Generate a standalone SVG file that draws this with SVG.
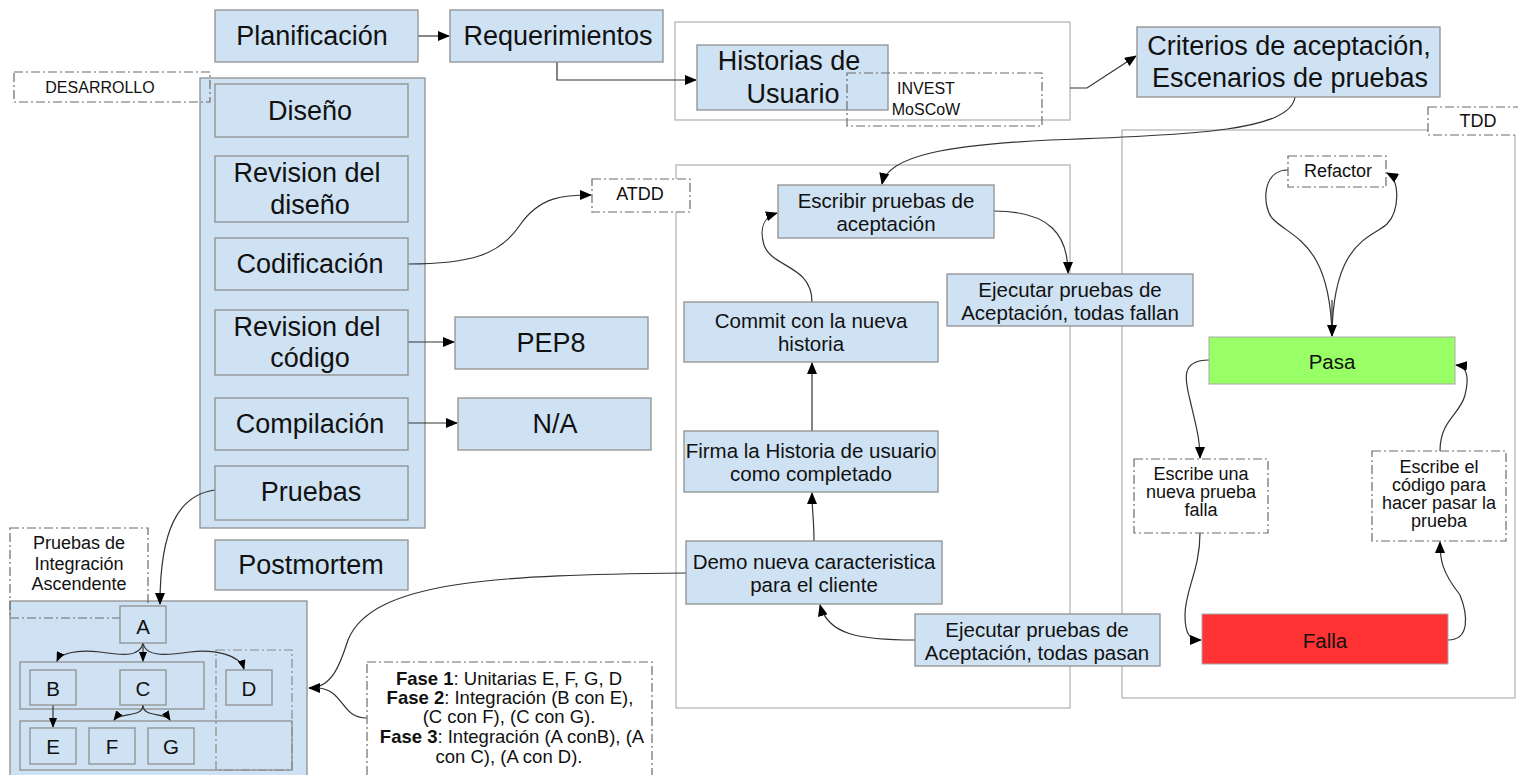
<svg xmlns="http://www.w3.org/2000/svg" width="1518" height="775" viewBox="0 0 1518 775">
<defs>
<marker id="ah" markerWidth="12" markerHeight="10" refX="11" refY="5" orient="auto" markerUnits="userSpaceOnUse">
<path d="M0,0 L12,5 L0,10 Z" fill="#000"/>
</marker>
<marker id="ahs" markerWidth="10" markerHeight="8" refX="9" refY="4" orient="auto" markerUnits="userSpaceOnUse">
<path d="M0,0 L10,4 L0,8 Z" fill="#000"/>
</marker>
<style>
.b{fill:#cfe2f3;stroke:#8f8f8f;stroke-width:1.3}
.g{fill:#fff;stroke:#b5b5b5;stroke-width:1.3}
.d{fill:#fff;stroke:#6b6b6b;stroke-width:1.2;stroke-dasharray:9,3,2,3}
.dt{fill:none;stroke:#6b6b6b;stroke-width:1.2;stroke-dasharray:9,3,2,3}
.dn{fill:none;stroke:#8a8a8a;stroke-width:1.2;stroke-dasharray:9,3,2,3}
.c{fill:none;stroke:#333;stroke-width:1.2;marker-end:url(#ah)}
.cs{fill:none;stroke:#333;stroke-width:1.2;marker-end:url(#ahs)}
.cn{fill:none;stroke:#333;stroke-width:1.2}
text{font-family:"Liberation Sans",Arial,sans-serif;fill:#111;text-anchor:middle;dominant-baseline:central}
.t27{font-size:27px}
.t20{font-size:20.5px}
.t18{font-size:18px}
.t16{font-size:16px}
.tf{font-size:18.5px}
</style>
</defs>
<rect width="1518" height="775" fill="#fff"/>

<!-- containers -->
<g id="grp-historias"><rect class="g" x="675" y="22" width="395" height="98"/></g>
<g id="grp-atdd"><rect class="g" x="676" y="165" width="394" height="543"/></g>
<g id="grp-tdd"><rect class="g" x="1122" y="130" width="393" height="568"/></g>
<g id="grp-desarrollo"><rect class="b" x="200" y="78" width="225" height="450"/></g>
<g id="grp-tree"><rect class="b" x="10" y="601" width="297" height="180"/></g>
<g id="grp-bc"><rect class="b" x="20" y="662" width="184" height="47"/></g>
<g id="grp-efg"><rect class="b" x="20" y="721" width="272" height="49"/></g>
<g id="grp-d"><rect class="dn" x="216" y="650" width="76" height="120"/></g>

<g id="connectors">
<path class="c" d="M418,36 L449,36"/>
<path class="c" d="M557,62 L557,80 L696,80"/>
<path class="c" d="M1070,88 L1087,88 L1136,56"/>
<path class="c" d="M408,264 C470,264 500,255 520,225 C540,196 565,195 591,195"/>
<path class="c" d="M408,342 L454,342"/>
<path class="c" d="M408,423 L457,423"/>
<path class="c" d="M215,490 C178,495 160,530 160,604"/>
<path class="c" d="M1295,97 C1290,130 1200,135 1050,140 C950,145 888,155 882,184"/>
<path class="c" d="M994,211 C1050,211 1068,235 1068,273"/>
<path class="c" d="M812,302 C812,265 772,268 764,245 C759,228 764,217 777,213"/>
<path class="c" d="M812,431 L812,363"/>
<path class="c" d="M814,541 C814,520 812,510 812,493"/>
<path class="c" d="M915,640 C860,640 828,635 820,605"/>
<path class="c" d="M686,573 C500,575 372,580 348,640 C340,665 332,688 309,688"/>
<path class="cn" d="M367,718 C340,718 345,690 318,688"/>
<path class="c" d="M1209,360 C1180,360 1185,380 1190,400 C1197,430 1200,440 1200,458"/>
<path class="c" d="M1200,533 C1200,570 1185,590 1185,615 C1185,635 1190,640 1201,640"/>
<path class="c" d="M1448,640 C1470,640 1468,615 1460,595 C1442,572 1440,560 1440,542"/>
<path class="c" d="M1440,451 C1440,420 1460,415 1465,395 C1470,375 1466,366 1456,365"/>
<path class="cn" d="M1288,170 C1262,170 1262,205 1272,218 C1290,238 1330,240 1332,336"/>
<path class="c" d="M1332,336 C1333,240 1372,238 1387,224 C1400,210 1400,180 1387,173"/>
<path class="c" d="M1332,300 L1332,336"/>
<path class="cs" d="M143,643 C140,658 120,655 100,652 C75,649 60,654 57,661"/>
<path class="cs" d="M143,643 L143,661"/>
<path class="cs" d="M143,643 C146,658 170,655 190,652 C215,649 240,655 244,669"/>
<path class="cs" d="M53,705 L53,727"/>
<path class="cs" d="M143,705 C143,718 120,712 114,720"/>
<path class="cs" d="M143,705 C143,718 165,712 170,720"/>
</g>

<g id="n-planificacion"><rect class="b" x="215" y="10" width="203" height="52"/><text class="t27" x="312" y="36">Planificación</text></g>
<g id="n-requerimientos"><rect class="b" x="450" y="10" width="213" height="52"/><text class="t27" x="558" y="36">Requerimientos</text></g>
<g id="n-historias"><rect class="b" x="697" y="45" width="191" height="65"/><text class="t27" x="789" y="61">Historias de</text><text class="t27" x="793" y="94">Usuario</text></g>
<g id="n-invest"><rect class="dt" x="847" y="73" width="195" height="53"/><text class="t16" x="926" y="88">INVEST</text><text class="t16" x="926" y="109">MoSCoW</text></g>
<g id="n-criterios"><rect class="b" x="1137" y="27" width="303" height="70"/><text class="t27" x="1289" y="46">Criterios de aceptación,</text><text class="t27" x="1290" y="78">Escenarios de pruebas</text></g>

<g id="n-desarrollo-label"><rect class="dt" x="14" y="72" width="196" height="30"/><text class="t16" x="100" y="87">DESARROLLO</text></g>
<g id="n-diseno"><rect class="b" x="215" y="84" width="193" height="53"/><text class="t27" x="310" y="111">Diseño</text></g>
<g id="n-revdiseno"><rect class="b" x="215" y="156" width="193" height="66"/><text class="t27" x="307" y="173">Revision del</text><text class="t27" x="310" y="205">diseño</text></g>
<g id="n-codificacion"><rect class="b" x="215" y="238" width="193" height="52"/><text class="t27" x="310" y="264">Codificación</text></g>
<g id="n-revcodigo"><rect class="b" x="215" y="310" width="193" height="65"/><text class="t27" x="307" y="327">Revision del</text><text class="t27" x="310" y="358">código</text></g>
<g id="n-compilacion"><rect class="b" x="215" y="398" width="193" height="52"/><text class="t27" x="310" y="424">Compilación</text></g>
<g id="n-pruebas"><rect class="b" x="215" y="466" width="193" height="54"/><text class="t27" x="311" y="492">Pruebas</text></g>
<g id="n-postmortem"><rect class="b" x="215" y="540" width="193" height="50"/><text class="t27" x="311" y="565">Postmortem</text></g>
<g id="n-pep8"><rect class="b" x="455" y="317" width="193" height="52"/><text class="t27" x="551" y="343">PEP8</text></g>
<g id="n-na"><rect class="b" x="458" y="398" width="193" height="52"/><text class="t27" x="555" y="424">N/A</text></g>

<g id="n-atdd"><rect class="d" x="592" y="179" width="98" height="33"/><text class="t18" x="640" y="194">ATDD</text></g>
<g id="n-escribir"><rect class="b" x="778" y="185" width="216" height="53"/><text class="t20" x="886" y="200">Escribir pruebas de</text><text class="t20" x="886" y="223">aceptación</text></g>
<g id="n-ejec-fallan"><rect class="b" x="947" y="274" width="246" height="52"/><text class="t20" x="1070" y="289">Ejecutar pruebas de</text><text class="t20" x="1070" y="312">Aceptación, todas fallan</text></g>
<g id="n-commit"><rect class="b" x="684" y="302" width="254" height="60"/><text class="t20" x="811" y="320">Commit con la nueva</text><text class="t20" x="811" y="343">historia</text></g>
<g id="n-firma"><rect class="b" x="684" y="431" width="254" height="61"/><text class="t20" x="811" y="450">Firma la Historia de usuario</text><text class="t20" x="811" y="473">como completado</text></g>
<g id="n-demo"><rect class="b" x="686" y="541" width="256" height="63"/><text class="t20" x="814" y="561">Demo nueva caracteristica</text><text class="t20" x="814" y="584">para el cliente</text></g>
<g id="n-ejec-pasan"><rect class="b" x="915" y="614" width="245" height="52"/><text class="t20" x="1037" y="629">Ejecutar pruebas de</text><text class="t20" x="1037" y="652">Aceptación, todas pasan</text></g>

<g id="n-tdd"><rect class="d" x="1428" y="107" width="95" height="28"/><text class="t18" x="1478" y="121">TDD</text></g>
<g id="n-refactor"><rect class="d" x="1288" y="156" width="98" height="31"/><text class="t18" x="1338" y="171">Refactor</text></g>
<g id="n-pasa"><rect x="1209" y="337" width="246" height="47" fill="#99ff66" stroke="#aaa"/><text class="t20" x="1332" y="361">Pasa</text></g>
<g id="n-escribe-una"><rect class="d" x="1134" y="459" width="134" height="74"/><text class="t18" x="1201" y="474">Escribe una</text><text class="t18" x="1201" y="492">nueva prueba</text><text class="t18" x="1201" y="510">falla</text></g>
<g id="n-escribe-el"><rect class="d" x="1372" y="451" width="134" height="90"/><text class="t18" x="1439" y="467">Escribe el</text><text class="t18" x="1439" y="485">código para</text><text class="t18" x="1439" y="503">hacer pasar la</text><text class="t18" x="1439" y="521">prueba</text></g>
<g id="n-falla"><rect x="1202" y="614" width="246" height="50" fill="#ff3333" stroke="#aaa"/><text class="t20" x="1325" y="640">Falla</text></g>

<g id="n-integracion"><rect class="dt" x="10" y="528" width="138" height="90"/><text class="t18" x="79" y="543">Pruebas de</text><text class="t18" x="79" y="564">Integración</text><text class="t18" x="79" y="584">Ascendente</text></g>
<g id="n-a"><rect class="b" x="120" y="606" width="46" height="37"/><text class="t20" x="143" y="626">A</text></g>
<g id="n-b"><rect class="b" x="30" y="670" width="46" height="35"/><text class="t20" x="53" y="688">B</text></g>
<g id="n-c"><rect class="b" x="120" y="670" width="46" height="35"/><text class="t20" x="143" y="688">C</text></g>
<g id="n-d"><rect class="b" x="226" y="670" width="46" height="35"/><text class="t20" x="249" y="688">D</text></g>
<g id="n-e"><rect class="b" x="30" y="728" width="46" height="36"/><text class="t20" x="53" y="746">E</text></g>
<g id="n-f"><rect class="b" x="89" y="728" width="46" height="36"/><text class="t20" x="112" y="746">F</text></g>
<g id="n-g"><rect class="b" x="148" y="728" width="46" height="36"/><text class="t20" x="171" y="746">G</text></g>

<g id="n-fases"><rect class="d" x="367" y="662" width="285" height="120"/>
<text class="tf" x="509" y="678"><tspan font-weight="bold">Fase 1</tspan>: Unitarias E, F, G, D</text>
<text class="tf" x="510" y="697"><tspan font-weight="bold">Fase 2</tspan>: Integración  (B con E),</text>
<text class="tf" x="509" y="716">(C con F), (C con G).</text>
<text class="tf" x="512" y="736"><tspan font-weight="bold">Fase 3</tspan>: Integración (A conB), (A</text>
<text class="tf" x="509" y="756">con C), (A con D).</text>
</g>
</svg>
